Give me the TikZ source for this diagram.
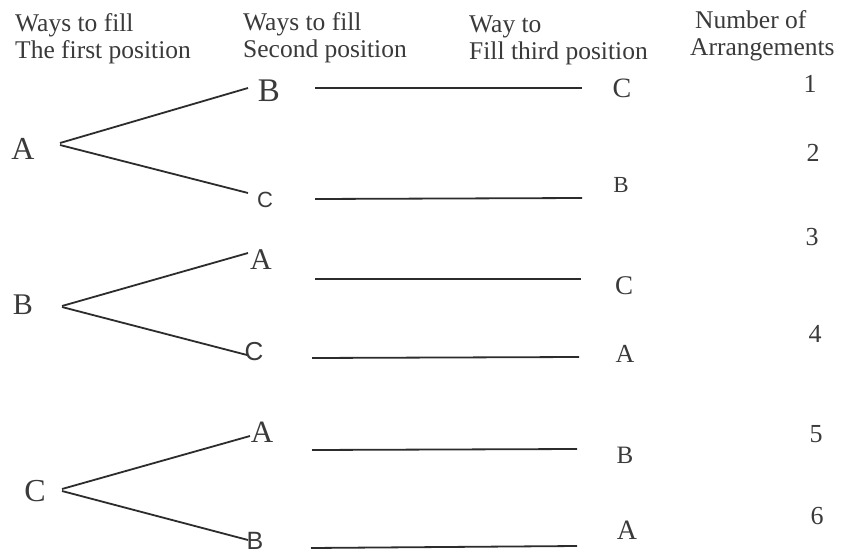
\documentclass[tikz,border=0pt]{standalone}
\usepackage{fontspec}
\setmainfont{Liberation Serif}
\newfontfamily\sansf{Liberation Sans}
\definecolor{ink}{HTML}{3A3A3A}
\definecolor{wire}{HTML}{2C2C2C}
\newcommand{\fs}[1]{\fontsize{#1}{#1}\selectfont}
\begin{document}
\begin{tikzpicture}[x=1pt,y=-1pt,
  hdr/.style={anchor=north west, inner sep=0pt, text=ink, align=left,
              font=\fontsize{25.5}{27}\selectfont},
  lett/.style={inner sep=0pt, text=ink, font=\fs{#1}},
  slett/.style={inner sep=0pt, text=ink, font=\sansf\fs{#1}},
  wirestyle/.style={draw=wire, line width=1.8pt}
]
\useasboundingbox[fill=white] (0,0) rectangle (844,554);

% headers
\node[hdr] (h1) at (15,13.5) {Ways to fill\\The first position};
\node[hdr] (h2) at (243,12) {Ways to fill\\Second position};
\node[hdr] (h3) at (469,16) {Way to\\Fill third position};
\node[hdr] (h4) at (690,10.5) {\hspace*{5pt}Number of\\Arrangements};

% roots
\node[lett=32] (r1) at (23,149) {A};
\node[lett=30] (r2) at (23,305) {B};
\node[lett=32] (r3) at (35,491) {C};

% second position
\node[lett=33]  (s1) at (269,91)  {B};
\node[slett=22] (s2) at (265,200) {C};
\node[lett=30]  (s3) at (261,260) {A};
\node[slett=26] (s4) at (254,352) {C};
\node[lett=31]  (s5) at (262,432) {A};
\node[slett=25] (s6) at (255,541) {B};

% third position
\node[lett=28] (t1) at (622,88)  {C};
\node[lett=23] (t2) at (621,185) {B};
\node[lett=27] (t3) at (624,286) {C};
\node[lett=26] (t4) at (625,354) {A};
\node[lett=25] (t5) at (625,455) {B};
\node[lett=28] (t6) at (627,530) {A};

% arrangement numbers
\node[lett=26] (n1) at (810,84)  {1};
\node[lett=26] (n2) at (813,153) {2};
\node[lett=26] (n3) at (812,237) {3};
\node[lett=26] (n4) at (815,334) {4};
\node[lett=26] (n5) at (816,434) {5};
\node[lett=26] (n6) at (817,516) {6};

% branch end points
\coordinate (r1a) at (60,143);  \coordinate (s1i) at (248,88);
\coordinate (r1b) at (60,145);  \coordinate (s2i) at (248,193);
\coordinate (r2a) at (62,306);  \coordinate (s3i) at (248,253);
\coordinate (r2b) at (62,307);  \coordinate (s4i) at (247,355);
\coordinate (r3a) at (62,489);  \coordinate (s5i) at (250,436);
\coordinate (r3b) at (62,491);  \coordinate (s6i) at (248,540);

\draw[wirestyle] (r1a) -- (s1i);
\draw[wirestyle] (r1b) -- (s2i);
\draw[wirestyle] (r2a) -- (s3i);
\draw[wirestyle] (r2b) -- (s4i);
\draw[wirestyle] (r3a) -- (s5i);
\draw[wirestyle] (r3b) -- (s6i);

% horizontal connectors
\coordinate (s1o) at (315,88);  \coordinate (t1i) at (582,88);
\coordinate (s2o) at (315,199); \coordinate (t2i) at (582,198);
\coordinate (s3o) at (315,279); \coordinate (t3i) at (581,279);
\coordinate (s4o) at (312,358); \coordinate (t4i) at (579,357);
\coordinate (s5o) at (312,450); \coordinate (t5i) at (577,449);
\coordinate (s6o) at (311,548); \coordinate (t6i) at (577,546);

\draw[wirestyle] (s1o) -- (t1i);
\draw[wirestyle] (s2o) -- (t2i);
\draw[wirestyle] (s3o) -- (t3i);
\draw[wirestyle] (s4o) -- (t4i);
\draw[wirestyle] (s5o) -- (t5i);
\draw[wirestyle] (s6o) -- (t6i);
\end{tikzpicture}
\end{document}
